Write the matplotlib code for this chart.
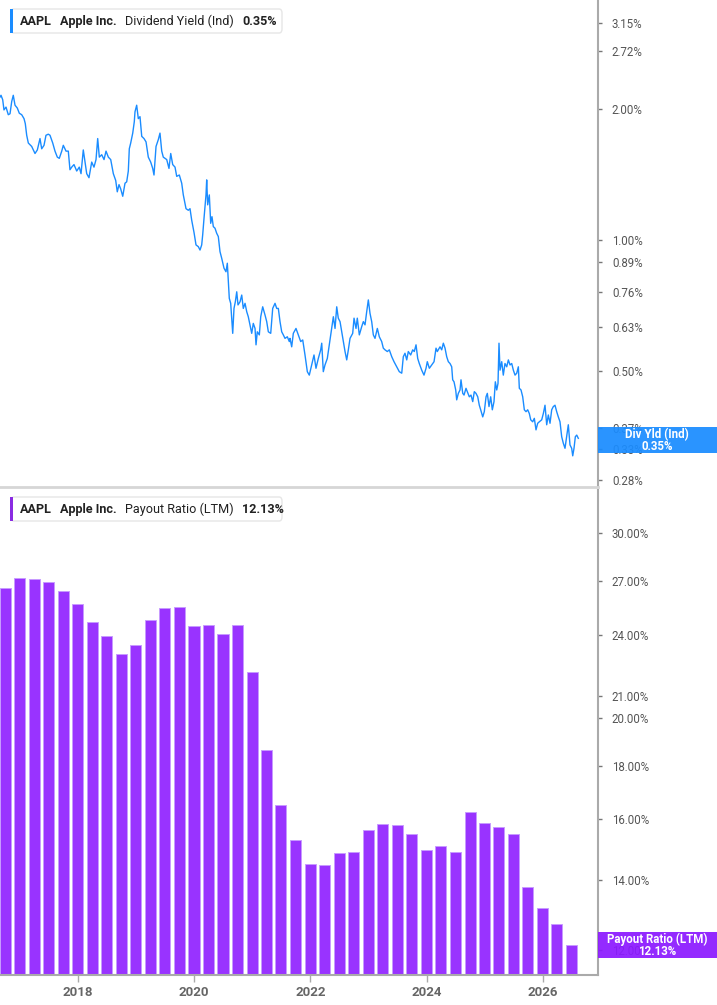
import matplotlib
matplotlib.use("Agg")
import matplotlib.pyplot as plt
from matplotlib.patches import Rectangle, FancyBboxPatch
from matplotlib.text import Annotation
from matplotlib.ticker import NullLocator, FixedLocator, FixedFormatter
import numpy as np
import pandas as pd

plt.rcParams['font.family'] = ['Roboto', 'DejaVu Sans']

# dividend yield (ind), %, x as decimal years
yld_year = [
    2016.658, 2016.675, 2016.704, 2016.726, 2016.761, 2016.800, 2016.830, 2016.859, 2016.886, 2016.916,
    2016.955, 2016.990, 2017.031, 2017.071, 2017.093, 2017.117, 2017.145, 2017.203, 2017.260, 2017.300,
    2017.346, 2017.375, 2017.415, 2017.449, 2017.489, 2017.518, 2017.565, 2017.604, 2017.644, 2017.678,
    2017.720, 2017.747, 2017.794, 2017.833, 2017.862, 2017.892, 2017.931, 2017.978, 2018.022, 2018.052,
    2018.091, 2018.121, 2018.150, 2018.189, 2018.236, 2018.275, 2018.310, 2018.339, 2018.367, 2018.408,
    2018.448, 2018.482, 2018.522, 2018.563, 2018.608, 2018.649, 2018.676, 2018.706, 2018.735, 2018.770,
    2018.809, 2018.838, 2018.866, 2018.883, 2018.907, 2018.942, 2018.969, 2018.981, 2019.010, 2019.038,
    2019.067, 2019.097, 2019.136, 2019.171, 2019.210, 2019.251, 2019.286, 2019.308, 2019.343, 2019.382,
    2019.411, 2019.441, 2019.468, 2019.527, 2019.566, 2019.596, 2019.630, 2019.670, 2019.699, 2019.744,
    2019.785, 2019.812, 2019.859, 2019.899, 2019.928, 2019.957, 2019.997, 2020.031, 2020.071, 2020.100,
    2020.129, 2020.146, 2020.169, 2020.203, 2020.215, 2020.232, 2020.260, 2020.284, 2020.306, 2020.329,
    2020.358, 2020.387, 2020.415, 2020.444, 2020.473, 2020.513, 2020.547, 2020.570, 2020.587, 2020.604,
    2020.628, 2020.646, 2020.663, 2020.685, 2020.708, 2020.732, 2020.754, 2020.789, 2020.818, 2020.845,
    2020.875, 2020.904, 2020.931, 2020.960, 2020.990, 2021.017, 2021.047, 2021.064, 2021.086, 2021.121,
    2021.145, 2021.179, 2021.219, 2021.248, 2021.276, 2021.317, 2021.351, 2021.391, 2021.420, 2021.448,
    2021.477, 2021.506, 2021.534, 2021.563, 2021.603, 2021.637, 2021.649, 2021.678, 2021.706, 2021.752,
    2021.792, 2021.833, 2021.868, 2021.907, 2021.947, 2021.981, 2022.022, 2022.062, 2022.096, 2022.136,
    2022.177, 2022.195, 2022.222, 2022.251, 2022.291, 2022.325, 2022.367, 2022.395, 2022.424, 2022.453,
    2022.480, 2022.510, 2022.539, 2022.566, 2022.596, 2022.625, 2022.653, 2022.682, 2022.728, 2022.751,
    2022.785, 2022.807, 2022.842, 2022.883, 2022.911, 2022.940, 2022.969, 2022.997, 2023.026, 2023.055,
    2023.083, 2023.112, 2023.152, 2023.186, 2023.227, 2023.255, 2023.284, 2023.324, 2023.358, 2023.400,
    2023.439, 2023.486, 2023.530, 2023.572, 2023.599, 2023.628, 2023.658, 2023.685, 2023.726, 2023.761,
    2023.788, 2023.818, 2023.847, 2023.874, 2023.916, 2023.955, 2023.990, 2024.012, 2024.047, 2024.088,
    2024.128, 2024.162, 2024.184, 2024.219, 2024.231, 2024.260, 2024.288, 2024.317, 2024.346, 2024.374,
    2024.403, 2024.432, 2024.449, 2024.472, 2024.501, 2024.518, 2024.546, 2024.575, 2024.592, 2024.622,
    2024.644, 2024.678, 2024.701, 2024.735, 2024.764, 2024.794, 2024.821, 2024.850, 2024.880, 2024.907,
    2024.931, 2024.966, 2024.993, 2025.023, 2025.045, 2025.074, 2025.103, 2025.131, 2025.160, 2025.183,
    2025.207, 2025.229, 2025.246, 2025.264, 2025.293, 2025.320, 2025.349, 2025.379, 2025.407, 2025.436,
    2025.465, 2025.493, 2025.522, 2025.551, 2025.579, 2025.596, 2025.625, 2025.654, 2025.682, 2025.711,
    2025.740, 2025.768, 2025.792, 2025.826, 2025.854, 2025.883, 2025.912, 2025.940, 2025.981, 2026.009,
    2026.038, 2026.067, 2026.095, 2026.124, 2026.153, 2026.181, 2026.210, 2026.239, 2026.267, 2026.296,
    2026.325, 2026.353, 2026.382, 2026.411, 2026.439, 2026.468, 2026.497, 2026.515, 2026.537, 2026.560,
    2026.584, 2026.611,
]
yld_pct = [
    2.13, 2.15, 2.10, 1.99, 2.02, 1.94, 1.95, 2.08, 2.15, 2.04,
    2.01, 1.955, 1.94, 1.90, 1.85, 1.74, 1.67, 1.64, 1.58, 1.61,
    1.71, 1.62, 1.65, 1.74, 1.75, 1.74, 1.67, 1.60, 1.55, 1.54,
    1.60, 1.65, 1.60, 1.60, 1.45, 1.47, 1.49, 1.44, 1.47, 1.42,
    1.61, 1.51, 1.42, 1.39, 1.51, 1.47, 1.53, 1.71, 1.55, 1.57,
    1.53, 1.60, 1.55, 1.53, 1.42, 1.37, 1.29, 1.34, 1.31, 1.26,
    1.35, 1.36, 1.44, 1.62, 1.67, 1.76, 1.87, 1.97, 2.04, 1.90,
    1.92, 1.73, 1.71, 1.68, 1.55, 1.51, 1.46, 1.41, 1.64, 1.70,
    1.76, 1.60, 1.55, 1.53, 1.46, 1.58, 1.49, 1.47, 1.40, 1.41,
    1.35, 1.27, 1.18, 1.17, 1.18, 1.11, 1.04, 0.974, 0.965, 0.948,
    0.974, 1.027, 1.122, 1.269, 1.374, 1.204, 1.269, 1.092, 1.131, 1.073,
    1.064, 1.036, 1.018, 0.940, 0.908, 0.861, 0.845, 0.884, 0.802, 0.734,
    0.715, 0.661, 0.610, 0.696, 0.721, 0.760, 0.709, 0.721, 0.747, 0.696,
    0.715, 0.684, 0.666, 0.638, 0.610, 0.643, 0.626, 0.574, 0.615, 0.605,
    0.666, 0.702, 0.672, 0.649, 0.615, 0.610, 0.696, 0.715, 0.696, 0.696,
    0.649, 0.615, 0.605, 0.594, 0.599, 0.584, 0.594, 0.568, 0.610, 0.626,
    0.605, 0.584, 0.589, 0.544, 0.498, 0.489, 0.516, 0.544, 0.507, 0.534,
    0.559, 0.579, 0.498, 0.516, 0.534, 0.574, 0.626, 0.666, 0.626, 0.702,
    0.661, 0.649, 0.615, 0.584, 0.554, 0.530, 0.559, 0.594, 0.610, 0.661,
    0.626, 0.661, 0.605, 0.632, 0.649, 0.638, 0.684, 0.728, 0.678, 0.649,
    0.605, 0.594, 0.626, 0.599, 0.584, 0.564, 0.559, 0.554, 0.559, 0.539,
    0.525, 0.511, 0.498, 0.494, 0.539, 0.549, 0.530, 0.554, 0.544, 0.559,
    0.554, 0.574, 0.534, 0.520, 0.502, 0.489, 0.507, 0.525, 0.507, 0.516,
    0.525, 0.564, 0.554, 0.564, 0.568, 0.559, 0.579, 0.564, 0.539, 0.525,
    0.520, 0.511, 0.477, 0.472, 0.452, 0.429, 0.444, 0.452, 0.477, 0.444,
    0.440, 0.456, 0.448, 0.436, 0.440, 0.425, 0.448, 0.444, 0.436, 0.417,
    0.407, 0.392, 0.403, 0.436, 0.444, 0.414, 0.436, 0.407, 0.425, 0.472,
    0.452, 0.468, 0.579, 0.502, 0.525, 0.489, 0.520, 0.511, 0.530, 0.516,
    0.520, 0.502, 0.489, 0.494, 0.511, 0.456, 0.452, 0.436, 0.407, 0.403,
    0.407, 0.399, 0.386, 0.382, 0.389, 0.366, 0.379, 0.382, 0.386, 0.399,
    0.417, 0.376, 0.396, 0.379, 0.407, 0.414, 0.417, 0.403, 0.392, 0.382,
    0.353, 0.341, 0.332, 0.353, 0.376, 0.338, 0.332, 0.319, 0.332, 0.353,
    0.356, 0.350,
]

# payout ratio (LTM), % per quarter
payout_quarters = pd.date_range('2016-09-30', periods=40, freq='QE')
payout_pct = [
    26.59, 27.22, 27.12, 26.98, 26.40, 25.69, 24.69, 23.96, 23.03, 23.46,
    24.81, 25.45, 25.54, 24.48, 24.51, 24.03, 24.51, 22.13, 18.65, 16.52,
    15.29, 14.51, 14.46, 14.85, 14.88, 15.64, 15.84, 15.81, 15.50, 14.95,
    15.09, 14.90, 16.26, 15.88, 15.74, 15.49, 13.78, 13.17, 12.70, 12.13,
]

yld_ticks = [3.15, 2.72, 2.00, 1.00, 0.89, 0.76, 0.63, 0.50, 0.37, 0.33, 0.28]
payout_ticks = [30, 27, 24, 21, 20, 18, 16, 14, 12]
year_ticks = [2018, 2020, 2022, 2024, 2026]

BLUE = '#1a8cff'
PURPLE = '#9933ff'
PURPLE_TAG = '#8c1aff'
GRID = '#aaaaaa'
TXT = '#555555'

W, H = 717, 1005
fig = plt.figure(figsize=(W / 100, H / 100), dpi=100)


def fx(x):
    return x / W


def fy(y):
    return 1 - y / H


ax1 = fig.add_axes([0, fy(487), fx(598), 487 / H])
ax2 = fig.add_axes([0, fy(975), fx(598), (975 - 490) / H], sharex=ax1)

ax1.plot(yld_year, yld_pct, color=BLUE, lw=1.0)

bar_x = payout_quarters.year + (payout_quarters.dayofyear - 1) / 365.25
ax2.bar(bar_x, payout_pct, width=0.19, color=PURPLE, edgecolor='#c79bff', linewidth=0.7)

for ax in (ax1, ax2):
    ax.set_yscale('log')
    ax.yaxis.tick_right()
    ax.yaxis.set_minor_locator(NullLocator())
    ax.spines['left'].set_visible(False)
    ax.spines['top'].set_visible(False)
    ax.spines['right'].set_color(GRID)
    ax.spines['right'].set_linewidth(1.5)
    ax.tick_params(axis='y', length=3, width=1, color='#777777', pad=7,
                   labelsize=8.3, labelcolor=TXT)

ax1.set_ylim(0.2705, 3.56)
ax1.yaxis.set_major_locator(FixedLocator(yld_ticks))
ax1.yaxis.set_major_formatter(FixedFormatter([f'{v:.2f}%' for v in yld_ticks]))
ax1.spines['bottom'].set_color('#d6d6d6')
ax1.spines['bottom'].set_linewidth(2)
ax1.tick_params(axis='x', bottom=False, labelbottom=False)

ax2.set_ylim(11.36, 33.0)
ax2.yaxis.set_major_locator(FixedLocator(payout_ticks))
ax2.yaxis.set_major_formatter(FixedFormatter([f'{v:.2f}%' for v in payout_ticks]))
ax2.spines['bottom'].set_color(GRID)
ax2.spines['bottom'].set_linewidth(1.5)
ax2.set_xlim(2016.6575, 2026.95)
ax2.set_xticks(year_ticks)
ax2.set_xticklabels([str(y) for y in year_ticks])
ax2.tick_params(axis='x', length=5, width=1, color=GRID, pad=3,
                labelsize=9.5, labelcolor='#666666')
for lab in ax2.get_xticklabels():
    lab.set_fontweight('bold')


def legend_box(y0, color, parts):
    box = FancyBboxPatch((fx(11), fy(y0 + 24)), fx(271), 24 / H,
                         boxstyle='round,pad=0,rounding_size=0.004',
                         transform=fig.transFigure, facecolor='white',
                         edgecolor='#e6e6e6', lw=1, zorder=5)
    fig.patches.append(box)
    fig.patches.append(Rectangle((fx(10), fy(y0 + 24)), fx(3), 24 / H,
                                 transform=fig.transFigure, facecolor=color,
                                 edgecolor='none', zorder=6))
    prev = None
    for text, weight in parts:
        if prev is None:
            prev = Annotation(text, xy=(20, H - y0 - 12), xycoords='figure pixels',
                              va='center', ha='left', fontsize=9.1, weight=weight,
                              color='#222222', annotation_clip=False)
        else:
            prev = Annotation(text, xy=(1, 0.5), xycoords=prev, xytext=(6, 0),
                              textcoords='offset points', va='center', ha='left',
                              fontsize=9.1, weight=weight, color='#222222',
                              annotation_clip=False)
        prev.set_zorder(7)
        fig.add_artist(prev)


legend_box(9, BLUE, [('AAPL', 'bold'), ('Apple Inc.', 'bold'),
                     ('Dividend Yield (Ind)', 'normal'), ('0.35%', 'bold')])
legend_box(497, '#8a2be2', [('AAPL', 'bold'), ('Apple Inc.', 'bold'),
                            ('Payout Ratio (LTM)', 'normal'), ('12.13%', 'bold')])


def value_tag(y0, y1, color, line1, line2):
    fig.patches.append(Rectangle((fx(598), fy(y1)), fx(W - 598), (y1 - y0) / H,
                                 transform=fig.transFigure, facecolor=color,
                                 edgecolor='none', alpha=0.93, zorder=5))
    cx = fx(657)
    fig.text(cx, fy(y0 + 7.5), line1, ha='center', va='center', color='white',
             fontsize=8.3, weight='bold', zorder=6)
    fig.text(cx, fy(y0 + 19), line2, ha='center', va='center', color='white',
             fontsize=8.3, weight='bold', zorder=6)


value_tag(427, 453, BLUE, 'Div Yld (Ind)', '0.35%')
value_tag(932, 958, PURPLE_TAG, 'Payout Ratio (LTM)', '12.13%')

fig.savefig('out.png', dpi=100)
